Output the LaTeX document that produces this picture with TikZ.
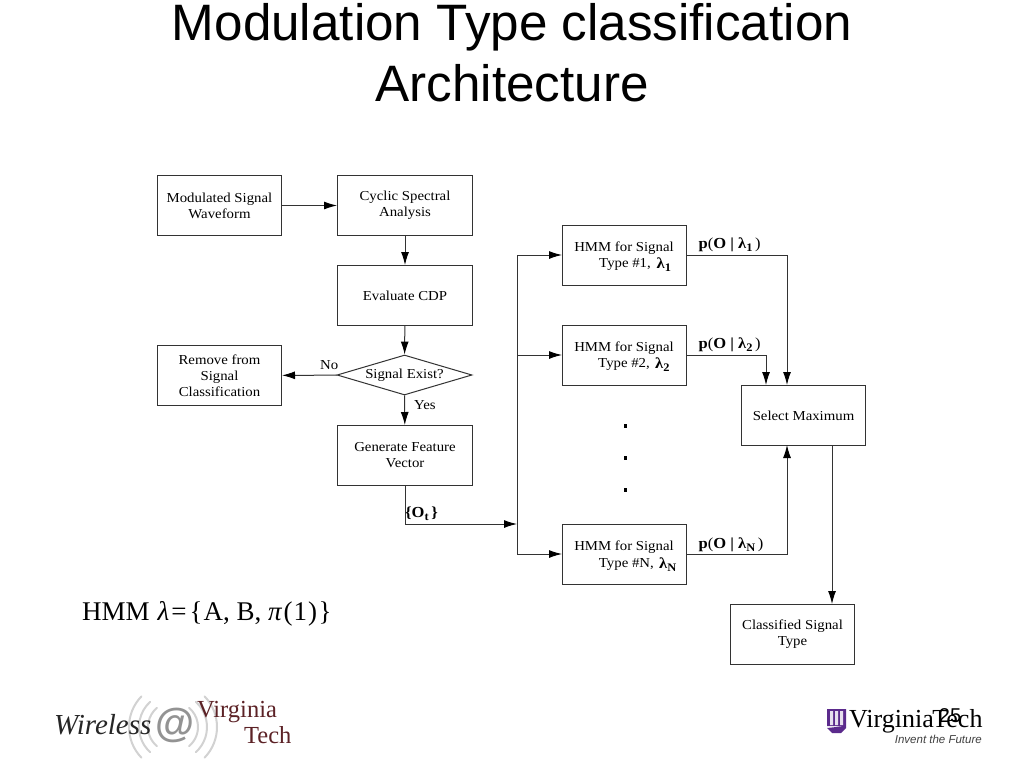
\documentclass[tikz,border=0pt]{standalone}
\usepackage{fontspec}
\setmainfont{Liberation Serif}
\newfontfamily\arialf{Liberation Sans}
\newfontfamily\dgm[FakeStretch=1.08,BoldFont={Liberation Serif Bold}]{Liberation Serif}
\usetikzlibrary{shapes.geometric,arrows.meta}
\definecolor{ln}{HTML}{333333}
\definecolor{vtred}{HTML}{5C2226}
\definecolor{vtpur}{HTML}{5B2A8C}
\newcommand{\sbb}[1]{\raisebox{-3.2pt}{\fontsize{11.5}{12}\selectfont #1}}
\newcommand{\mdp}[1]{{\mdseries #1}}
\tikzset{
 x=1pt,y=-1pt,
 txt/.style={font=\dgm\fontsize{13.7}{16}\selectfont,align=center,text=black},
 boxn/.style={draw=ln,line width=1pt,inner sep=0pt,txt,anchor=north west},
 lbl/.style={font=\dgm\fontsize{13.7}{16}\selectfont,text=black,inner sep=0pt},
 blbl/.style={font=\dgm\bfseries\fontsize{15.3}{16}\selectfont,text=black,inner sep=0pt},
 conn/.style={draw=ln,line width=1pt},
 arr/.style={conn,-{Latex[length=13pt,width=8pt,black]}},
 dotn/.style={fill=black,minimum size=3.5pt,inner sep=0pt},
 wave/.style={draw=gray!35,line width=2pt,line cap=round},
}
\begin{document}
\begin{tikzpicture}
\useasboundingbox (0,0) rectangle (1024,768);
\fill[white] (0,0) rectangle (1024,768);
% title
\node[font=\arialf\fontsize{51.2}{61}\selectfont,align=center,inner sep=0pt] (title) at (512,53) {Modulation Type classification\\Architecture};
% boxes
\node[boxn,minimum width=124pt,minimum height=60pt] (mod) at (157,175) {Modulated Signal\\Waveform};
\node[boxn,minimum width=135pt,minimum height=60pt] (cyc) at (337,175) {Cyclic Spectral\\Analysis};
\node[boxn,minimum width=135pt,minimum height=60pt] (cdp) at (337,265) {Evaluate CDP};
\node[draw=ln,line width=1pt,diamond,aspect=3.375,inner sep=0pt,minimum width=135pt,minimum height=40pt,txt] (sig) at (404.5,375) {};
\node[txt,inner sep=0pt] (sigt) at (404.5,375) {Signal Exist?};
\node[boxn,minimum width=124pt,minimum height=60pt] (rem) at (157,345) {Remove from\\Signal\\Classification};
\node[boxn,minimum width=135pt,minimum height=60pt] (gen) at (337,425) {Generate Feature\\Vector};
\node[boxn,minimum width=124pt,minimum height=60pt] (h1) at (562,225) {};
\node[boxn,minimum width=124pt,minimum height=60pt] (h2) at (562,325) {};
\node[boxn,minimum width=124pt,minimum height=60pt] (hn) at (562,524) {};
\node[boxn,minimum width=124pt,minimum height=60pt] (sel) at (741,385) {Select Maximum};
\node[boxn,minimum width=124pt,minimum height=60pt] (cls) at (730,604) {Classified Signal\\Type};
% HMM texts
\node[lbl,anchor=center] (h1a) at (624,248) {HMM for Signal};
\node[lbl,anchor=east] (h1b) at (651,264.5) {Type \#1,};
\node[blbl,anchor=west] (h1c) at (656.5,265) {λ\sbb{1}};
\node[lbl,anchor=center] (h2a) at (624,348) {HMM for Signal};
\node[lbl,anchor=east] (h2b) at (650,364.5) {Type \#2,};
\node[blbl,anchor=west] (h2c) at (655,365) {λ\sbb{2}};
\node[lbl,anchor=center] (hna) at (624,547.5) {HMM for Signal};
\node[lbl,anchor=east] (hnb) at (654,564) {Type \#N,};
\node[blbl,anchor=west] (hnc) at (659,565) {λ\sbb{N}};
% labels
\node[lbl,anchor=west] (no) at (320,365.5) {No};
\node[lbl,anchor=west] (yes) at (414,405.5) {Yes};
\node[blbl,anchor=west] (ot) at (405,514) {\{O\sbb{t}\,\}};
\node[blbl,anchor=west] (p1) at (698.5,245) {p\mdp{(}O | λ\sbb{1}\,\mdp{)}};
\node[blbl,anchor=west] (p2) at (698.5,345) {p\mdp{(}O | λ\sbb{2}\,\mdp{)}};
\node[blbl,anchor=west] (pn) at (698.5,545) {p\mdp{(}O | λ\sbb{N}\,\mdp{)}};
% dots
\node[dotn] (d1) at (625.5,426) {};
\node[dotn] (d2) at (625.5,458) {};
\node[dotn] (d3) at (625.5,490) {};
% bus coordinates
\coordinate (bust) at (517,255);
\coordinate (bus2) at (517,355);
\coordinate (busi) at (517,524);
\coordinate (busb) at (517,554);
\coordinate (gend) at (405,524);
\coordinate (p1c) at (787,255);
\coordinate (p2c) at (766,355);
\coordinate (pnc) at (787,554);
\coordinate (s1) at (787,385);
\coordinate (s2) at (766,385);
\coordinate (sn) at (787,445);
\coordinate (so) at (832,445);
\coordinate (ci) at (832,604);
% connectors
\draw[arr] (mod) -- (cyc);
\draw[arr] (cyc) -- (cdp);
\draw[arr] (cdp) -- (sig);
\draw[arr] (sig) -- (gen);
\draw[arr] (sig) -- (rem);
\draw[arr] (gen.south -| gend) -- (gend) -- (busi);
\draw[conn] (bust) -- (busb);
\draw[arr] (bust) -- (h1.west |- bust);
\draw[arr] (bus2) -- (h2.west |- bus2);
\draw[arr] (busb) -- (hn.west |- busb);
\draw[arr] (h1.east |- p1c) -- (p1c) -- (s1);
\draw[arr] (h2.east |- p2c) -- (p2c) -- (s2);
\draw[arr] (hn.east |- pnc) -- (pnc) -- (sn);
\draw[arr] (so) -- (ci);
% formula
\node[inner sep=0pt,anchor=west,font=\fontsize{27}{28}\selectfont] (hmmf) at (82,613.5) {HMM\kern8pt\textit{λ}\kern2pt=\kern3pt\{\kern1pt A, B, \textit{π}\kern1.5pt(\kern1pt1\kern1pt)\kern1.5pt\}};
% left logo
\foreach \r/\a in {25/50,34/48,44/44}{
 \draw[wave] (173,727)++(180-\a:\r) arc (180-\a:180+\a:\r);
 \draw[wave] (173,727)++(\a:\r) arc (\a:-\a:\r);
}
\node[inner sep=0pt,anchor=west,font=\itshape\fontsize{29}{30}\selectfont,text=black!85] (wl) at (54,725) {Wireless};
\node[inner sep=0pt,font=\arialf\bfseries\fontsize{40}{42}\selectfont,text=gray!85] (at) at (175,725) {@};
\node[inner sep=0pt,anchor=west,font=\fontsize{24.5}{25}\selectfont,text=vtred] (vir) at (197,712) {Virginia};
\node[inner sep=0pt,anchor=west,font=\fontsize{24.5}{25}\selectfont,text=vtred] (tec) at (244,735) {Tech};
% right logo
\fill[vtpur] (827,709) rectangle (846,726) -- (846,728) -- (841,733) -- (832,733) -- (827,728) -- cycle;
\fill[white!85!vtpur] (830,711) rectangle (833,725) (835,711) rectangle (838,725) (840,711) rectangle (843,725);
\node[inner sep=0pt,anchor=west,font=\fontsize{26}{28}\selectfont,text=black] (vt) at (849,721) {Virginia\kern-1.5pt Tech};
\node[inner sep=0pt,anchor=east,font=\arialf\itshape\fontsize{11.5}{12}\selectfont,text=black!75] (inv) at (982,739) {Invent the Future};
\node[inner sep=0pt,font=\arialf\fontsize{20}{20}\selectfont] (pg) at (950,716) {25};
\end{tikzpicture}
\end{document}
